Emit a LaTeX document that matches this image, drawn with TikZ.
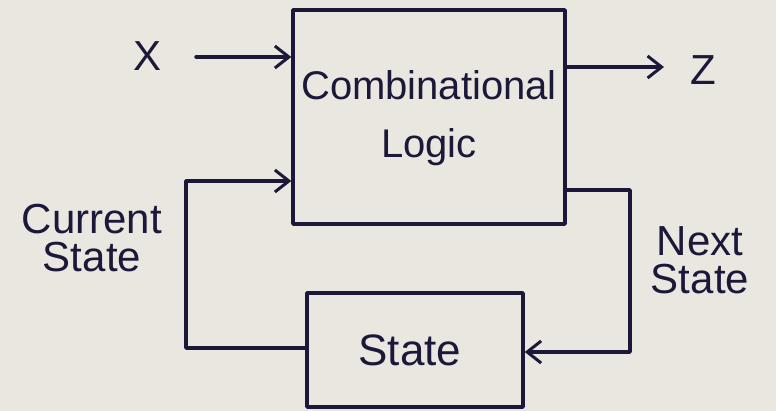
\documentclass[tikz,border=0pt]{standalone}
\usepackage{fontspec}
\setmainfont{Liberation Sans}
\usetikzlibrary{arrows.meta}
\definecolor{paper}{RGB}{233,231,223}
\definecolor{ink}{RGB}{28,24,58}
\begin{document}
\begin{tikzpicture}[x=1pt,y=-1pt,
  ink/.style={draw=ink,line width=3.4pt,line cap=round,line join=round},
  arr/.style={ink,-{Straight Barb[length=14pt,width=22pt,line width=3pt]}},
  block/.style={ink,rectangle,inner sep=0pt},
  lbl/.style={text=ink,font=\fontsize{42}{38}\selectfont,align=center}]
\fill[paper] (0,0) rectangle (776,411);
\useasboundingbox (0,0) rectangle (776,411);
% blocks
\node[block,minimum width=272pt,minimum height=214pt] (comb) at (429,117) {};
\node[lbl,font=\fontsize{40}{58}\selectfont] (combt) at (429,118) {Combinational\\Logic};
\node[block,minimum width=216pt,minimum height=114pt] (state) at (415,350) {};
\node[lbl,font=\fontsize{44}{40}\selectfont] (statet) at (410,350) {State};
% labels
\node[lbl] (x) at (148,56) {X};
\node[lbl] (z) at (703,70) {Z};
\node[lbl] (cur) at (92,238) {Current\\State};
\node[lbl] (nxt) at (700,260) {Next\\State};
% coordinates
\coordinate (xs) at (196,57);
\coordinate (xe) at (comb.west |- xs);
\coordinate (zs) at (comb.east |- 0,67);
\coordinate (ze) at (664,67);
\coordinate (ns) at (comb.east |- 0,190);
\coordinate (n1) at (630,190);
\coordinate (n2) at (630,352);
\coordinate (ne) at (state.east |- n2);
\coordinate (cs) at (state.west |- 0,348);
\coordinate (c1) at (186,348);
\coordinate (c2) at (186,181);
\coordinate (ce) at (comb.west |- c2);
% connectors
\draw[arr] (xs) -- (xe);
\draw[arr] (zs) -- (ze);
\draw[arr] (ns) -- (n1) -- (n2) -- (ne);
\draw[arr] (cs) -- (c1) -- (c2) -- (ce);
\end{tikzpicture}
\end{document}
